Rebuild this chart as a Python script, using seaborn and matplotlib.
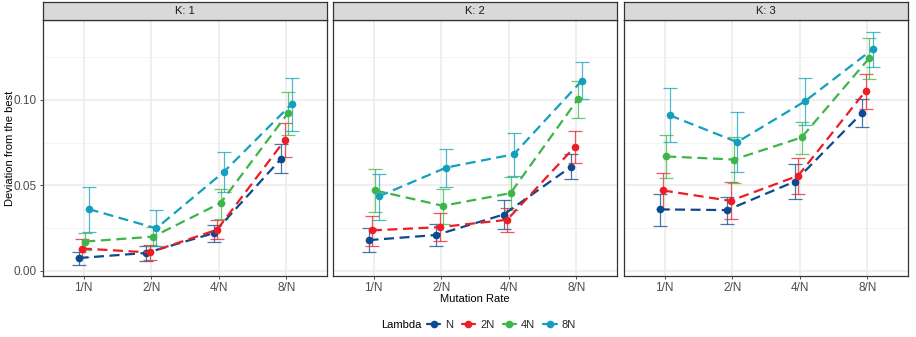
import numpy as np
import pandas as pd
import matplotlib
matplotlib.use("Agg")
import matplotlib.pyplot as plt
from matplotlib.lines import Line2D
import seaborn as sns

sns.set_theme(style="white")
plt.rcParams['font.family'] = ['Liberation Sans', 'DejaVu Sans']

rates = ["1/N", "2/N", "4/N", "8/N"]
lambdas = ["N", "2N", "4N", "8N"]
panels = ["K: 1", "K: 2", "K: 3"]
colors = ["#0B4A8E", "#EE1C25", "#3DB548", "#12A0BE"]

# mean / low / high per panel, rows = lambdas, cols = rates
k1_mean = [[0.0074, 0.0104, 0.0220, 0.0657],
           [0.0130, 0.0107, 0.0240, 0.0764],
           [0.0171, 0.0199, 0.0396, 0.0924],
           [0.0361, 0.0248, 0.0579, 0.0975]]
k1_low = [[0.0035, 0.0058, 0.0170, 0.0573],
          [0.0080, 0.0060, 0.0187, 0.0665],
          [0.0120, 0.0142, 0.0304, 0.0795],
          [0.0226, 0.0142, 0.0458, 0.0819]]
k1_high = [[0.0107, 0.0142, 0.0265, 0.0740],
           [0.0185, 0.0148, 0.0294, 0.0862],
           [0.0222, 0.0253, 0.0481, 0.1049],
           [0.0493, 0.0353, 0.0698, 0.1129]]

k2_mean = [[0.0179, 0.0209, 0.0329, 0.0610],
           [0.0236, 0.0255, 0.0298, 0.0725],
           [0.0470, 0.0380, 0.0454, 0.1006],
           [0.0435, 0.0604, 0.0682, 0.1111]]
k2_low = [[0.0109, 0.0144, 0.0246, 0.0538],
          [0.0146, 0.0175, 0.0228, 0.0633],
          [0.0343, 0.0275, 0.0357, 0.0897],
          [0.0296, 0.0493, 0.0557, 0.1004]]
k2_high = [[0.0248, 0.0271, 0.0415, 0.0682],
           [0.0322, 0.0337, 0.0367, 0.0817],
           [0.0595, 0.0481, 0.0548, 0.1113],
           [0.0569, 0.0713, 0.0805, 0.1220]]

k3_mean = [[0.0359, 0.0355, 0.0522, 0.0926],
           [0.0470, 0.0409, 0.0556, 0.1053],
           [0.0669, 0.0651, 0.0780, 0.1244],
           [0.0910, 0.0753, 0.0992, 0.1296]]
k3_low = [[0.0261, 0.0275, 0.0419, 0.0842],
          [0.0363, 0.0300, 0.0450, 0.0949],
          [0.0540, 0.0516, 0.0682, 0.1121],
          [0.0753, 0.0577, 0.0852, 0.1193]]
k3_high = [[0.0452, 0.0433, 0.0624, 0.1004],
           [0.0571, 0.0519, 0.0661, 0.1154],
           [0.0794, 0.0785, 0.0871, 0.1365],
           [0.1068, 0.0928, 0.1130, 0.1398]]

means = [k1_mean, k2_mean, k3_mean]
lows = [k1_low, k2_low, k3_low]
highs = [k1_high, k2_high, k3_high]

rows = []
for p, pname in enumerate(panels):
    for li, lam in enumerate(lambdas):
        for ri, rate in enumerate(rates):
            rows.append(dict(panel=pname, Lambda=lam, rate=rate, ri=ri, li=li,
                             mean=means[p][li][ri], low=lows[p][li][ri],
                             high=highs[p][li][ri]))
df = pd.DataFrame(rows)
dodge_step = 0.05
df["x"] = df["ri"] + (df["li"] - 1.5) * dodge_step

W, H = 916, 337
fig = plt.figure(figsize=(W / 100, H / 100), dpi=100)

panel_lefts = [43, 333, 624]
pw = 284
ptop, pbot = 20, 276
ymin, ymax = -0.0031, 0.1468
dash = (0, (4.5, 2.5))

for p, pname in enumerate(panels):
    ax = fig.add_axes([panel_lefts[p] / W, 1 - pbot / H, pw / W, (pbot - ptop) / H])
    sub = df[df.panel == pname]
    ax.set_xlim(-0.6, 3.6)
    ax.set_ylim(ymin, ymax)
    ax.set_facecolor("white")
    for yv in [0.025, 0.075, 0.125]:
        ax.axhline(yv, color="#F2F2F2", lw=0.6, zorder=0)
    for yv in [0.0, 0.05, 0.10]:
        ax.axhline(yv, color="#EBEBEB", lw=1.1, zorder=0)
    for xv in range(4):
        ax.axvline(xv, color="#EBEBEB", lw=1.1, zorder=0)
    for li, lam in enumerate(lambdas):
        s = sub[sub.Lambda == lam]
        ax.errorbar(s["x"], s["mean"],
                    yerr=[s["mean"] - s["low"], s["high"] - s["mean"]],
                    fmt="none", ecolor=colors[li], elinewidth=0.9,
                    capsize=4.7, capthick=0.9, alpha=0.75, zorder=2)
    for li, lam in enumerate(lambdas):
        s = sub[sub.Lambda == lam]
        sns.lineplot(data=s, x="x", y="mean", ax=ax, color=colors[li],
                     linestyle=dash, lw=1.6, marker="o", markersize=5.5,
                     markeredgewidth=0, sort=True, legend=False, zorder=3,
                     estimator=None)
    ax.set_xticks(range(4))
    ax.set_xticklabels(rates)
    ax.set_yticks([0.0, 0.05, 0.10])
    ax.set_xlabel("")
    ax.set_ylabel("")
    if p == 0:
        ax.set_yticklabels(["0.00", "0.05", "0.10"])
        ax.tick_params(axis="y", length=2.5, width=0.6, color="#333333",
                       labelsize=8.5, labelcolor="#4D4D4D", pad=2, left=True)
    else:
        ax.set_yticklabels([])
        ax.tick_params(axis="y", left=False)
    ax.tick_params(axis="x", length=2.5, width=0.6, color="#333333",
                   labelsize=8.5, labelcolor="#4D4D4D", pad=1.5, bottom=True)
    for sp in ax.spines.values():
        sp.set_color("#333333")
        sp.set_linewidth(0.9)
    sax = fig.add_axes([panel_lefts[p] / W, 1 - ptop / H, pw / W, 18 / H])
    sax.set_facecolor("#D9D9D9")
    sax.set_xticks([]); sax.set_yticks([])
    for sp in sax.spines.values():
        sp.set_color("#333333")
        sp.set_linewidth(0.9)
    sax.text(0.5, 0.5, pname, ha="center", va="center", fontsize=8,
             color="#1A1A1A", transform=sax.transAxes)

fig.text(10 / W, 1 - 148.5 / H, "Deviation from the best", rotation=90,
         ha="center", va="center", fontsize=8, color="black")
fig.text((panel_lefts[1] + pw / 2) / W, 1 - 299 / H, "Mutation Rate",
         ha="center", va="center", fontsize=8, color="black")

handles = [Line2D([0], [0], color=c, lw=1.6, marker="o", markersize=5.5,
                  markeredgewidth=0) for c in colors]
fig.legend(handles, lambdas, ncol=4, loc="center left", frameon=False,
           bbox_to_anchor=(427 / W, 1 - 325 / H), fontsize=8,
           handlelength=1.2, handletextpad=0.45, columnspacing=0.75,
           borderaxespad=0, borderpad=0)
fig.text(422 / W, 1 - 325 / H, "Lambda", ha="right", va="center",
         fontsize=8, color="black")

fig.savefig("out.png", dpi=100)
